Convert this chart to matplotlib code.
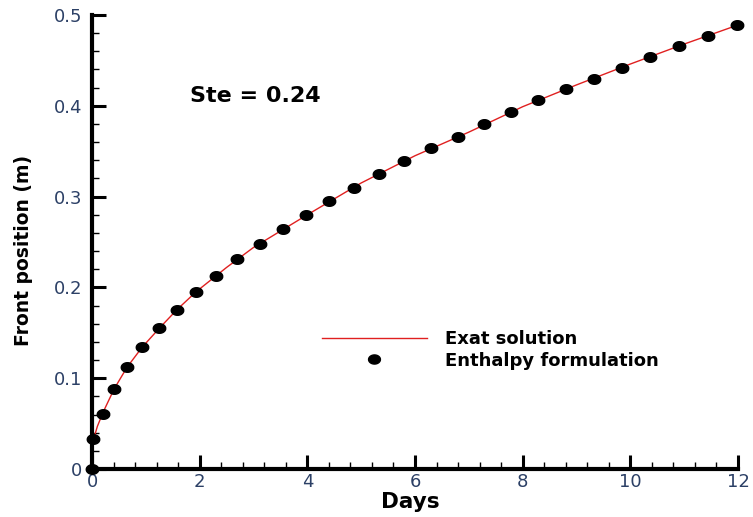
import numpy as np
import matplotlib
matplotlib.use("Agg")
import matplotlib.pyplot as plt
from matplotlib.path import Path
from matplotlib.ticker import MultipleLocator

# exact solution curve
exact_days = [0, 0.01, 0.03, 0.1, 0.21, 0.41, 0.65, 0.93, 1.25, 1.57, 1.93, 2.5, 3, 4, 5, 6, 7, 8, 9, 10, 11, 12]
exact_front = [0, 0.016, 0.033, 0.047, 0.063, 0.088, 0.112, 0.134, 0.155, 0.175, 0.195, 0.222,
               0.244, 0.280, 0.315, 0.345, 0.371, 0.399, 0.423, 0.446, 0.468, 0.489]

# enthalpy formulation points
enth_days = [0, 0.02, 0.21, 0.41, 0.65, 0.93, 1.25, 1.57, 1.93, 2.30, 2.70, 3.12, 3.54, 3.98,
             4.41, 4.87, 5.33, 5.80, 6.29, 6.79, 7.28, 7.78, 8.29, 8.81, 9.32, 9.84, 10.37,
             10.90, 11.45, 11.99]
enth_front = [0, 0.033, 0.061, 0.088, 0.112, 0.134, 0.155, 0.175, 0.195, 0.213, 0.231, 0.248,
              0.264, 0.280, 0.295, 0.310, 0.325, 0.339, 0.353, 0.366, 0.380, 0.393, 0.406,
              0.418, 0.430, 0.442, 0.454, 0.466, 0.477, 0.489]

tick_col = '#2c4066'

fig = plt.figure(figsize=(7.53, 5.17), dpi=100)
ax = fig.add_axes([92/753, 48/517, 646/753, 454/517])

# slightly wide dots, like the original
th = np.linspace(0, 2*np.pi, 40)
dot = Path(np.column_stack([1.3*np.cos(th), np.sin(th)]))

ax.plot(exact_days, exact_front, color='#e02020', lw=1.0, label='Exat solution', zorder=2)
ax.plot(enth_days, enth_front, ls='none', marker=dot, ms=9, color='black',
        label='Enthalpy formulation', zorder=3, clip_on=False)

ax.set_xlim(0, 12)
ax.set_ylim(0, 0.5)
ax.xaxis.set_major_locator(MultipleLocator(2))
ax.xaxis.set_minor_locator(MultipleLocator(0.4))
ax.yaxis.set_major_locator(MultipleLocator(0.1))
ax.yaxis.set_minor_locator(MultipleLocator(0.02))
ax.set_yticks([0, 0.1, 0.2, 0.3, 0.4, 0.5])
ax.set_yticklabels(['0', '0.1', '0.2', '0.3', '0.4', '0.5'])

for s in ['top', 'right']:
    ax.spines[s].set_visible(False)
for s in ['left', 'bottom']:
    ax.spines[s].set_linewidth(3)

ax.tick_params(which='major', direction='in', length=10, width=2.2, labelsize=13,
               labelcolor=tick_col, pad=3)
ax.tick_params(which='minor', direction='in', length=5, width=1)
ax.tick_params(axis='y', pad=7)

ax.set_xlabel('Days', fontsize=15.5, fontweight='bold')
ax.xaxis.set_label_coords(0.492, -0.05)
ax.set_ylabel('Front position (m)', fontsize=13.5, fontweight='bold')
ax.yaxis.set_label_coords(-0.092, 0.482)

fig.text(190/753, 1 - 96/517, 'Ste = 0.24', fontsize=16, fontweight='bold', va='center')

ax.legend(loc='upper left', bbox_to_anchor=(322/753, 1 - 330/517), bbox_transform=fig.transFigure,
          frameon=False, handlelength=5.8, handletextpad=1.0, labelspacing=0.2,
          borderpad=0, borderaxespad=0, markerscale=0.95,
          prop={'weight': 'bold', 'size': 13})

fig.savefig('out.png', dpi=100)
